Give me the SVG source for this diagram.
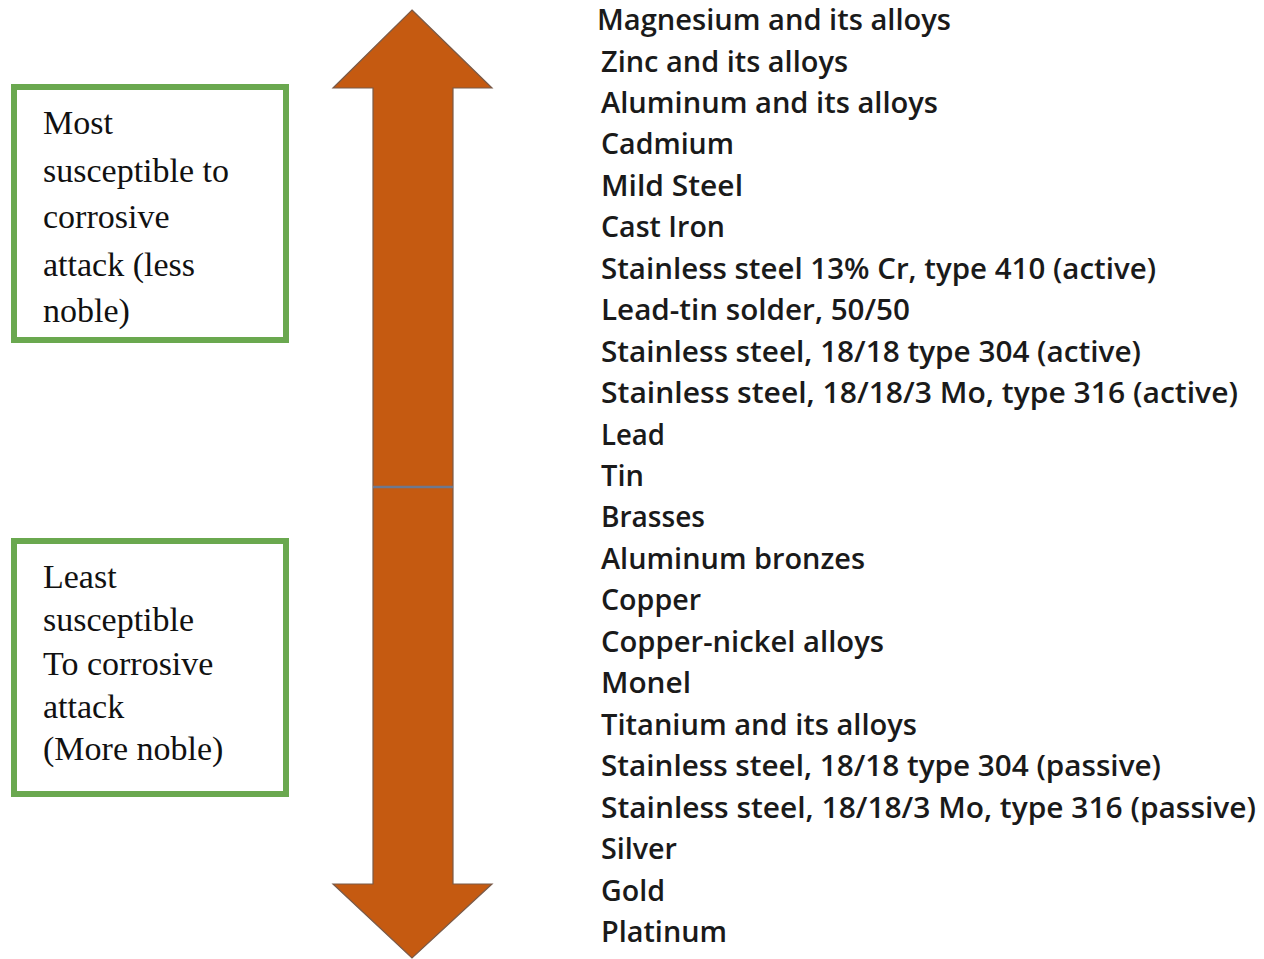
<svg xmlns="http://www.w3.org/2000/svg" width="1264" height="959" viewBox="0 0 1264 959">
<style>
.box{fill:#ffffff;stroke:#6aa84f;stroke-width:6}
.lbl{font-family:"Liberation Serif","Times New Roman",serif;font-size:34px;fill:#111111}
.item{font-family:"Open Sans","Noto Sans",sans-serif;font-weight:600;font-size:28px;fill:#1a1a1a}
.arrow{fill:#c55a11;stroke:#7a5a48;stroke-width:1.2;stroke-linejoin:miter}
</style>
<rect width="1264" height="959" fill="#ffffff"/>
<g id="arrow">
<polygon class="arrow" points="412,10 492,88 453,88 453,884 492,884 412,958 333,884 373,884 373,88 333,88"/>
<line x1="373" y1="487" x2="453" y2="487" stroke="#6d7890" stroke-width="2.5"/>
</g>
<g id="box-most">
<rect class="box" x="14" y="87" width="272" height="253"/>
<text class="lbl" x="43" y="134">Most</text>
<text class="lbl" x="43" y="182" textLength="186" lengthAdjust="spacingAndGlyphs">susceptible to</text>
<text class="lbl" x="43" y="228">corrosive</text>
<text class="lbl" x="43" y="276">attack (less</text>
<text class="lbl" x="43" y="322">noble)</text>
</g>
<g id="box-least">
<rect class="box" x="14" y="541" width="272" height="253"/>
<text class="lbl" x="43" y="588">Least</text>
<text class="lbl" x="43" y="631">susceptible</text>
<text class="lbl" x="43" y="675">To corrosive</text>
<text class="lbl" x="43" y="718">attack</text>
<text class="lbl" x="43" y="760">(More noble)</text>
</g>
<g id="series">
<text class="item" x="597" y="30" textLength="354" lengthAdjust="spacingAndGlyphs">Magnesium and its alloys</text>
<text class="item" x="601" y="71.5" textLength="247" lengthAdjust="spacingAndGlyphs">Zinc and its alloys</text>
<text class="item" x="601" y="112.9" textLength="337" lengthAdjust="spacingAndGlyphs">Aluminum and its alloys</text>
<text class="item" x="601" y="154.4" textLength="133" lengthAdjust="spacingAndGlyphs">Cadmium</text>
<text class="item" x="601" y="195.8" textLength="142" lengthAdjust="spacingAndGlyphs">Mild Steel</text>
<text class="item" x="601" y="237.3" textLength="124" lengthAdjust="spacingAndGlyphs">Cast Iron</text>
<text class="item" x="601" y="278.7" textLength="555" lengthAdjust="spacingAndGlyphs">Stainless steel 13% Cr, type 410 (active)</text>
<text class="item" x="601" y="320.2" textLength="309" lengthAdjust="spacingAndGlyphs">Lead-tin solder, 50/50</text>
<text class="item" x="601" y="361.6" textLength="540" lengthAdjust="spacingAndGlyphs">Stainless steel, 18/18 type 304 (active)</text>
<text class="item" x="601" y="403.1" textLength="637" lengthAdjust="spacingAndGlyphs">Stainless steel, 18/18/3 Mo, type 316 (active)</text>
<text class="item" x="601" y="444.5" textLength="64" lengthAdjust="spacingAndGlyphs">Lead</text>
<text class="item" x="601" y="486" textLength="43" lengthAdjust="spacingAndGlyphs">Tin</text>
<text class="item" x="601" y="527.4" textLength="104" lengthAdjust="spacingAndGlyphs">Brasses</text>
<text class="item" x="601" y="568.9" textLength="264" lengthAdjust="spacingAndGlyphs">Aluminum bronzes</text>
<text class="item" x="601" y="610.3" textLength="100" lengthAdjust="spacingAndGlyphs">Copper</text>
<text class="item" x="601" y="651.8" textLength="283" lengthAdjust="spacingAndGlyphs">Copper-nickel alloys</text>
<text class="item" x="601" y="693.2" textLength="90" lengthAdjust="spacingAndGlyphs">Monel</text>
<text class="item" x="601" y="734.7" textLength="316" lengthAdjust="spacingAndGlyphs">Titanium and its alloys</text>
<text class="item" x="601" y="776.1" textLength="560" lengthAdjust="spacingAndGlyphs">Stainless steel, 18/18 type 304 (passive)</text>
<text class="item" x="601" y="817.6" textLength="655" lengthAdjust="spacingAndGlyphs">Stainless steel, 18/18/3 Mo, type 316 (passive)</text>
<text class="item" x="601" y="859" textLength="76" lengthAdjust="spacingAndGlyphs">Silver</text>
<text class="item" x="601" y="900.5" textLength="64" lengthAdjust="spacingAndGlyphs">Gold</text>
<text class="item" x="601" y="941.9" textLength="126" lengthAdjust="spacingAndGlyphs">Platinum</text>
</g>
</svg>
